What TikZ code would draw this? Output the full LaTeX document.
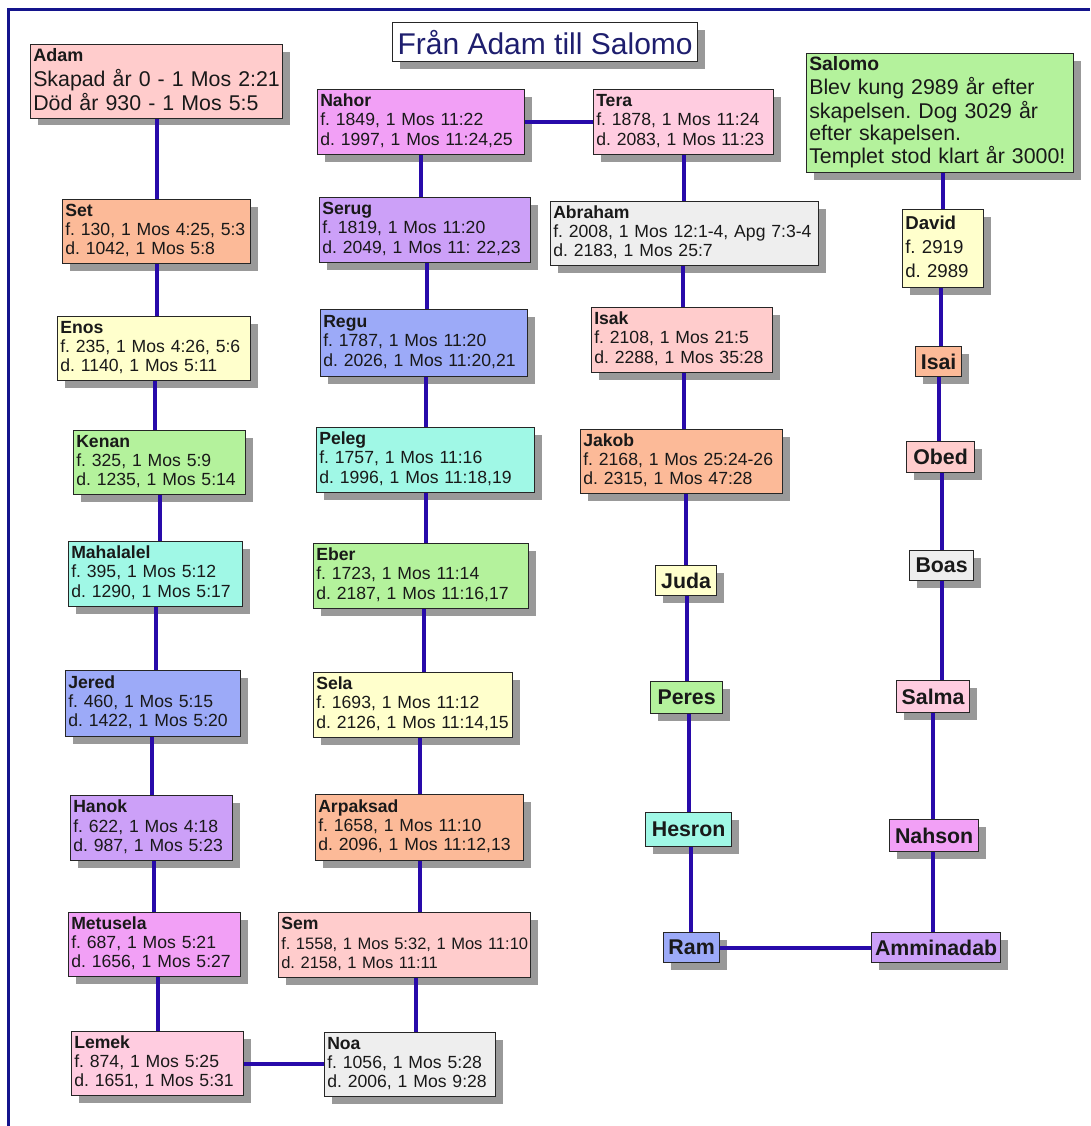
\documentclass[tikz,border=0pt]{standalone}
\usepackage{fontspec}
\setmainfont{Liberation Sans}
\usetikzlibrary{shadows}
\frenchspacing
\newcommand\mlines[1]{\begin{tabular}{@{}l@{}}#1\end{tabular}}
\definecolor{lc}{RGB}{40,10,170}
\definecolor{frame}{RGB}{20,20,140}
\definecolor{titlec}{RGB}{30,30,110}
\definecolor{cPink}{HTML}{FFCCCC}
\definecolor{cOrange}{HTML}{FCBA98}
\definecolor{cYellow}{HTML}{FFFFCC}
\definecolor{cGreen}{HTML}{B4F29C}
\definecolor{cCyan}{HTML}{A0F8E6}
\definecolor{cBlue}{HTML}{9CAAF8}
\definecolor{cPurple}{HTML}{CCA0F8}
\definecolor{cMagenta}{HTML}{F2A0F6}
\definecolor{cRose}{HTML}{FFCCE0}
\definecolor{cGray}{HTML}{EEEEEE}
\tikzset{
 box/.style={draw=black!85, line width=0.9pt, anchor=north west, align=left,
   inner xsep=2pt, inner ysep=1pt, text=black!90,
   drop shadow={shadow xshift=5.25pt, shadow yshift=-5.25pt, fill=black!40, opacity=1}},
 small/.style={font=\fontsize{13.2}{14.6}\selectfont},
 big/.style={font=\fontsize{16}{17.2}\selectfont},
 single/.style={box, align=center, font=\fontsize{16}{18}\selectfont\bfseries, inner sep=1pt},
 sz/.code 2 args={\pgfmathsetmacro\mytw{#1*0.75-4}\pgfmathsetmacro\myh{#2*0.75}%
   \edef\mytmp{\noexpand\pgfkeysalso{text width=\mytw pt,minimum height=\myh pt}}\mytmp},
 ssz/.code 2 args={\pgfmathsetmacro\myw{#1*0.75}\pgfmathsetmacro\myh{#2*0.75}%
   \edef\mytmp{\noexpand\pgfkeysalso{minimum width=\myw pt,minimum height=\myh pt}}\mytmp},
 conn/.style={draw=lc, line width=3pt},
}
\begin{document}
\begin{tikzpicture}[x=0.75pt, y=-0.75pt]
\useasboundingbox[fill=white] (0,0) rectangle (1090,1126);
\draw[frame, line width=2.25pt] (8,1126) -- (8,10) -- (1090,10);

% title
\node[box, fill=white, align=center, text=titlec, font=\fontsize{22.5}{26}\selectfont, ssz={305}{39}] (title) at (392,22) {Från Adam till Salomo};

% column 1
\node[box, big, fill=cPink, sz={252}{73}] (Adam) at (30,44)
 {\mlines{{\fontsize{13.5}{17.2}\selectfont\bfseries Adam}\\Skapad år 0 - 1 Mos 2:21\\Död år 930 - 1 Mos 5:5}};
\node[box, small, fill=cOrange, sz={188}{64}] (Set) at (62,199)
 {\mlines{\textbf{Set}\\f. 130, 1 Mos 4:25, 5:3\\d. 1042, 1 Mos 5:8}};
\node[box, small, fill=cYellow, sz={193}{64}] (Enos) at (57,316)
 {\mlines{\textbf{Enos}\\f. 235, 1 Mos 4:26, 5:6\\d. 1140, 1 Mos 5:11}};
\node[box, small, fill=cGreen, sz={172}{64}] (Kenan) at (73,430)
 {\mlines{\textbf{Kenan}\\f. 325, 1 Mos 5:9\\d. 1235, 1 Mos 5:14}};
\node[box, small, fill=cCyan, sz={174}{65}] (Mahalalel) at (68,541)
 {\mlines{\textbf{Mahalalel}\\f. 395, 1 Mos 5:12\\d. 1290, 1 Mos 5:17}};
\node[box, small, fill=cBlue, sz={175}{66}] (Jered) at (65,670)
 {\mlines{\textbf{Jered}\\f. 460, 1 Mos 5:15\\d. 1422, 1 Mos 5:20}};
\node[box, small, fill=cPurple, sz={162}{65}] (Hanok) at (70,795)
 {\mlines{\textbf{Hanok}\\f. 622, 1 Mos 4:18\\d. 987, 1 Mos 5:23}};
\node[box, small, fill=cMagenta, sz={172}{64}] (Metusela) at (68,912)
 {\mlines{\textbf{Metusela}\\f. 687, 1 Mos 5:21\\d. 1656, 1 Mos 5:27}};
\node[box, small, fill=cRose, sz={172}{64}] (Lemek) at (71,1031)
 {\mlines{\textbf{Lemek}\\f. 874, 1 Mos 5:25\\d. 1651, 1 Mos 5:31}};

% column 2
\node[box, small, fill=cGray, sz={171}{64}] (Noa) at (324,1032)
 {\mlines{\textbf{Noa}\\f. 1056, 1 Mos 5:28\\d. 2006, 1 Mos 9:28}};
\node[box, fill=cPink, font=\fontsize{12.4}{14.6}\selectfont, sz={252}{65}] (Sem) at (278,912)
 {\mlines{{\fontsize{13.2}{14.6}\selectfont\bfseries Sem}\\f. 1558, 1 Mos 5:32, 1 Mos 11:10\\d. 2158, 1 Mos 11:11}};
\node[box, small, fill=cOrange, sz={208}{66}] (Arpaksad) at (315,794)
 {\mlines{\textbf{Arpaksad}\\f. 1658, 1 Mos 11:10\\d. 2096, 1 Mos 11:12,13}};
\node[box, small, fill=cYellow, sz={199}{65}] (Sela) at (313,672)
 {\mlines{\textbf{Sela}\\f. 1693, 1 Mos 11:12\\d. 2126, 1 Mos 11:14,15}};
\node[box, small, fill=cGreen, sz={215}{65}] (Eber) at (313,543)
 {\mlines{\textbf{Eber}\\f. 1723, 1 Mos 11:14\\d. 2187, 1 Mos 11:16,17}};
\node[box, small, fill=cCyan, sz={218}{65}] (Peleg) at (316,427)
 {\mlines{\textbf{Peleg}\\f. 1757, 1 Mos 11:16\\d. 1996, 1 Mos 11:18,19}};
\node[box, small, fill=cBlue, sz={207}{67}] (Regu) at (320,309)
 {\mlines{\textbf{Regu}\\f. 1787, 1 Mos 11:20\\d. 2026, 1 Mos 11:20,21}};
\node[box, small, fill=cPurple, sz={211}{65}] (Serug) at (319,197)
 {\mlines{\textbf{Serug}\\f. 1819, 1 Mos 11:20\\d. 2049, 1 Mos 11: 22,23}};
\node[box, small, fill=cMagenta, sz={207}{65}] (Nahor) at (317,89)
 {\mlines{\textbf{Nahor}\\f. 1849, 1 Mos 11:22\\d. 1997, 1 Mos 11:24,25}};

% column 3
\node[box, small, fill=cRose, sz={180}{65}] (Tera) at (593,89)
 {\mlines{\textbf{Tera}\\f. 1878, 1 Mos 11:24\\d. 2083, 1 Mos 11:23}};
\node[box, small, fill=cGray, sz={268}{64}] (Abraham) at (550,201)
 {\mlines{\textbf{Abraham}\\f. 2008, 1 Mos 12:1-4, Apg 7:3-4\\d. 2183, 1 Mos 25:7}};
\node[box, small, fill=cPink, sz={181}{65}] (Isak) at (591,307)
 {\mlines{\textbf{Isak}\\f. 2108, 1 Mos 21:5\\d. 2288, 1 Mos 35:28}};
\node[box, small, fill=cOrange, sz={202}{64}] (Jakob) at (580,429)
 {\mlines{\textbf{Jakob}\\f. 2168, 1 Mos 25:24-26\\d. 2315, 1 Mos 47:28}};
\node[single, fill=cYellow, ssz={61}{30}] (Juda) at (655,565) {Juda};
\node[single, fill=cGreen, ssz={72}{32}] (Peres) at (650,681) {Peres};
\node[single, fill=cCyan, ssz={86}{34}] (Hesron) at (645,812) {Hesron};
\node[single, fill=cBlue, ssz={56}{30}] (Ram) at (663,932) {Ram};

% column 4
\node[single, fill=cPurple, ssz={129}{30}] (Amminadab) at (871,932) {Amminadab};
\node[single, fill=cMagenta, ssz={89}{32}] (Nahson) at (889,819) {Nahson};
\node[single, fill=cRose, ssz={73}{32}] (Salma) at (896,680) {Salma};
\node[single, fill=cGray, ssz={64}{30}] (Boas) at (909,550) {Boas};
\node[single, fill=cPink, ssz={68}{31}] (Obed) at (906,441) {Obed};
\node[single, fill=cOrange, ssz={46}{30}] (Isai) at (915,346) {Isai};
\node[box, fill=cYellow, font=\fontsize{14}{18}\selectfont, sz={81}{78}] (David) at (902,209)
 {\mlines{\textbf{David}\\f. 2919\\d. 2989}};
\node[box, fill=cGreen, sz={267}{119}, font=\fontsize{16}{16.2}\selectfont] (Salomo) at (806,53)
 {\mlines{{\fontsize{14.5}{16.2}\selectfont\bfseries Salomo}\\Blev kung 2989 år efter\\skapelsen. Dog 3029 år\\efter skapelsen.\\Templet stod klart år 3000!}};

% connectors
\draw[conn] (Adam.south) -- (Adam.south |- Set.north);
\draw[conn] (Set.south) -- (Set.south |- Enos.north);
\draw[conn] ([xshift=1pt]Enos.south) -- ([xshift=1pt]Enos.south |- Kenan.north);
\draw[conn] (Kenan.south) -- (Kenan.south |- Mahalalel.north);
\draw[conn] (Mahalalel.south) -- (Mahalalel.south |- Jered.north);
\draw[conn] (Hanok.north) -- (Hanok.north |- Jered.south);
\draw[conn] ([xshift=1.5pt]Hanok.south) -- ([xshift=1.5pt]Hanok.south |- Metusela.north);
\draw[conn] (Lemek.north) -- (Lemek.north |- Metusela.south);
\draw[conn] (Lemek.east) -- (Lemek.east -| Noa.west);
\draw[conn] ([xshift=4.5pt]Noa.north) -- ([xshift=4.5pt]Noa.north |- Sem.south);
\draw[conn] (Arpaksad.south) -- (Arpaksad.south |- Sem.north);
\draw[conn] (Arpaksad.north) -- (Arpaksad.north |- Sela.south);
\draw[conn] ([xshift=2.5pt]Eber.south) -- ([xshift=2.5pt]Eber.south |- Sela.north);
\draw[conn] (Peleg.south) -- (Peleg.south |- Eber.north);
\draw[conn] (Peleg.north) -- (Peleg.north |- Regu.south);
\draw[conn] ([xshift=1.5pt]Serug.south) -- ([xshift=1.5pt]Serug.south |- Regu.north);
\draw[conn] (Nahor.south) -- (Nahor.south |- Serug.north);
\draw[conn] (Nahor.east) -- (Nahor.east -| Tera.west);
\draw[conn] (Tera.south) -- (Tera.south |- Abraham.north);
\draw[conn] ([xshift=-1pt]Abraham.south) -- ([xshift=-1pt]Abraham.south |- Isak.north);
\draw[conn] ([xshift=1.5pt]Jakob.north) -- ([xshift=1.5pt]Jakob.north |- Isak.south);
\draw[conn] (Juda.north) -- (Juda.north |- Jakob.south);
\draw[conn] (Peres.north) -- (Peres.north |- Juda.south);
\draw[conn] (Hesron.north) -- (Hesron.north |- Peres.south);
\draw[conn] ([xshift=-0.75pt]Ram.north) -- ([xshift=-0.75pt]Ram.north |- Hesron.south);
\draw[conn] (Ram.east) -- (Ram.east -| Amminadab.west);
\draw[conn] ([xshift=-1pt]Nahson.south) -- ([xshift=-1pt]Nahson.south |- Amminadab.north);
\draw[conn] (Salma.south) -- (Salma.south |- Nahson.north);
\draw[conn] (Boas.south) -- (Boas.south |- Salma.north);
\draw[conn] (Boas.north) -- (Boas.north |- Obed.south);
\draw[conn] (Isai.south) -- (Isai.south |- Obed.north);
\draw[conn] ([xshift=1.5pt]Isai.north) -- ([xshift=1.5pt]Isai.north |- David.south);
\draw[conn] (David.north) -- (David.north |- Salomo.south);
\end{tikzpicture}
\end{document}
